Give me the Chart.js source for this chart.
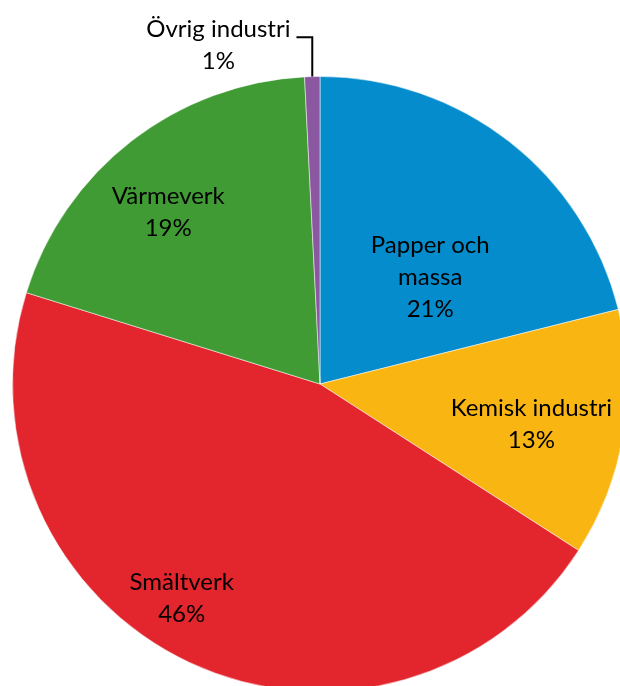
<!DOCTYPE html>
<html>
<head>
<meta charset="utf-8">
<script src="https://cdn.jsdelivr.net/npm/chart.js@4.4.0/dist/chart.umd.min.js"></script>
<style>
  html, body { margin: 0; padding: 0; background: #fff; overflow: hidden; }
  #wrap { position: absolute; left: 0; top: 0; width: 640px; height: 768px; }
</style>
</head>
<body>
<div id="wrap"><canvas id="myChart" width="640" height="768"></canvas></div>
<script>
const labels = ['Papper och massa', 'Kemisk industri', 'Smältverk', 'Värmeverk', 'Övrig industri'];
const shares = [21.1, 13.0, 45.7, 19.4, 0.8];
const colors = ['#058ccc', '#f9b512', '#e3262e', '#409b35', '#8a57a0'];

// label placement: [angle from top (deg), fraction of radius], text lines
const labelLines = [['Papper och', 'massa'], ['Kemisk industri'], ['Smältverk'], ['Värmeverk'], ['Övrig industri']];
const labelPos = [[45.8, 0.50], [100.9, 0.70], [212.8, 0.83], [318.5, 0.745], [343.3, 1.15]];

const pieLabels = {
    id: 'pieLabels',
    afterDraw(chart) {
        const c = chart.ctx;
        const arcs = chart.getDatasetMeta(0).data;
        const cx = arcs[0].x, cy = arcs[0].y, r = arcs[0].outerRadius;
        const lh = 32;
        c.save();
        c.font = '24px Lato, "Open Sans", sans-serif';
        c.fillStyle = '#000';
        c.textAlign = 'center';
        c.textBaseline = 'middle';
        arcs.forEach((arc, i) => {
            const a = labelPos[i][0] * Math.PI / 180;
            const x = cx + Math.sin(a) * r * labelPos[i][1];
            const y = cy - Math.cos(a) * r * labelPos[i][1];
            const lines = labelLines[i].concat([Math.round(shares[i]) + '%']);
            const top = y - (lines.length - 1) * lh / 2;
            lines.forEach((t, j) => c.fillText(t, x, top + j * lh));
            if (i === 4) {
                // leader line for the small slice
                const w = c.measureText(lines[0]).width;
                const mid = (arc.startAngle + arc.endAngle) / 2;
                const ex = cx + Math.cos(mid) * r;
                const ey = cy + Math.sin(mid) * r;
                const ly = top + 8;
                c.strokeStyle = '#000';
                c.lineWidth = 2;
                c.beginPath();
                c.moveTo(x + w / 2 + 6, ly);
                c.lineTo(ex, ly);
                c.lineTo(ex, ey);
                c.stroke();
            }
        });
        c.restore();
    }
};

const ctx = document.getElementById('myChart');
const myChart = new Chart(ctx, {
    type: 'pie',
    data: {
        labels: labels,
        datasets: [{
            data: shares,
            backgroundColor: colors,
            borderColor: 'rgba(255,255,255,0.5)',
            borderWidth: 1,
            hoverOffset: 0
        }]
    },
    options: {
        responsive: false,
        animation: false,
        devicePixelRatio: 1,
        layout: { padding: { left: 12, right: 12, top: 76, bottom: 76 } },
        plugins: {
            legend: { display: false },
            tooltip: { enabled: false }
        }
    },
    plugins: [pieLabels]
});
</script>
</body>
</html>
